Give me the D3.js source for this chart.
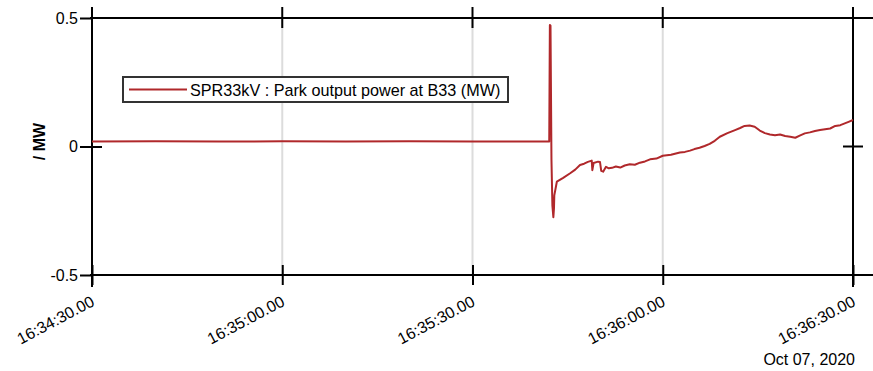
<!DOCTYPE html>
<html lang="en">
<head>
<meta charset="UTF-8">
<title>SPR33kV park output power</title>
<script src="https://cdnjs.cloudflare.com/ajax/libs/d3/7.8.5/d3.min.js"></script>
<style>
  body { margin: 0; background: #fff; }
  text { font-family: "Liberation Sans", Arial, sans-serif; }
</style>
</head>
<body>
<script>
// seconds after 16:34:30.00 on Oct 07, 2020
const seconds = [0, 10, 20, 30, 40, 50, 60, 70, 72.1, 72.2, 72.3, 72.45, 72.6, 72.75, 72.85, 72.9,
  73.3, 74.3, 75.4, 76.2, 76.95, 77.6, 78.2, 78.8, 78.9, 79.1, 79.8, 80.1, 80.3, 80.6, 81.05,
  81.5, 82.0, 82.6, 83.3, 84.0, 84.8, 85.6, 86.4, 87.2, 88.0, 89.0, 90.0, 91.3, 92.7, 93.5, 94.3,
  95.0, 95.8, 96.6, 97.4, 98.2, 99.0, 100.2, 101.4, 102.2, 102.9, 103.7, 104.5, 105.3, 106.1,
  106.9, 107.7, 108.5, 109.3, 110.1, 110.9, 111.6, 112.4, 113.2, 114.0, 114.8, 115.6, 116.4,
  117.2, 118.0, 118.7, 119.4, 120];
const power = [0.019, 0.020, 0.019, 0.020, 0.019, 0.020, 0.019, 0.019, 0.019, 0.473, 0.47, -0.05, -0.23, -0.275, -0.24, -0.19,
  -0.137, -0.122, -0.104, -0.09, -0.072, -0.067, -0.06, -0.055, -0.092, -0.064, -0.059, -0.06, -0.095, -0.098, -0.079,
  -0.085, -0.083, -0.078, -0.082, -0.074, -0.069, -0.071, -0.063, -0.058, -0.05, -0.047, -0.036, -0.032, -0.023, -0.021, -0.016,
  -0.010, -0.005, 0.002, 0.010, 0.022, 0.038, 0.052, 0.064, 0.072, 0.080, 0.082, 0.077, 0.062, 0.052,
  0.047, 0.044, 0.047, 0.041, 0.038, 0.034, 0.042, 0.051, 0.055, 0.060, 0.064, 0.067, 0.070,
  0.080, 0.083, 0.090, 0.097, 0.103];
const xTickSeconds = [0, 30, 60, 90, 120];
const xTickLabels = ["16:34:30.00", "16:35:00.00", "16:35:30.00", "16:36:00.00", "16:36:30.00"];
const yTicks = [-0.5, 0, 0.5];
const seriesName = "SPR33kV : Park output power at B33 (MW)";
const dateLabel = "Oct 07, 2020";

const start = new Date(2020, 9, 7, 16, 34, 30);
const data = seconds.map((s, i) => ({ t: new Date(start.getTime() + s * 1000), v: power[i] }));
const xTicks = xTickSeconds.map(s => new Date(start.getTime() + s * 1000));

const width = 873, height = 371;
const m = { left: 92, right: 853, top: 18, bottom: 275 };
const red = "#b0282b";

const svg = d3.select("body").append("svg")
  .attr("width", width)
  .attr("height", height);

const x = d3.scaleTime()
  .domain([start, xTicks[xTicks.length - 1]])
  .range([m.left, m.right]);
const y = d3.scaleLinear()
  .domain([-0.5, 0.5])
  .range([m.bottom, m.top]);

// grid lines
svg.append("g").selectAll("line")
  .data(xTicks.slice(1, -1))
  .enter().append("line")
  .attr("x1", d => x(d)).attr("x2", d => x(d))
  .attr("y1", m.top).attr("y2", m.bottom)
  .attr("stroke", "#dcdcdc")
  .attr("stroke-width", 2);

// frame lines
const frame = svg.append("g").attr("stroke", "#000").attr("stroke-width", 2);
frame.append("line").attr("x1", m.left - 2).attr("x2", width).attr("y1", m.top).attr("y2", m.top);
frame.append("line").attr("x1", m.left - 2).attr("x2", width).attr("y1", m.bottom).attr("y2", m.bottom);
frame.append("line").attr("x1", m.left).attr("x2", m.left).attr("y1", 7).attr("y2", 287);
frame.append("line").attr("x1", m.right).attr("x2", m.right).attr("y1", 7).attr("y2", 287);

// bottom axis: ticks cross the line, labels rotated
const xAxis = svg.append("g")
  .attr("transform", `translate(0,${m.bottom})`)
  .call(d3.axisBottom(x).tickValues(xTicks).tickSize(10).tickSizeOuter(0).tickFormat((d, i) => xTickLabels[i]));
xAxis.select(".domain").remove();
xAxis.selectAll(".tick line").attr("y1", -10).attr("stroke-width", 2);
xAxis.selectAll(".tick text")
  .attr("font-size", 16)
  .attr("fill", "#000")
  .attr("text-anchor", "end")
  .attr("dy", 0)
  .attr("y", 0)
  .attr("transform", "translate(3,30) rotate(-28)");

// top ticks
svg.append("g").selectAll("line")
  .data(xTicks.slice(1, -1))
  .enter().append("line")
  .attr("x1", d => x(d)).attr("x2", d => x(d))
  .attr("y1", m.top - 11).attr("y2", m.top + 10)
  .attr("stroke", "#000").attr("stroke-width", 2);

// left axis
const yAxis = svg.append("g")
  .attr("transform", `translate(${m.left},0)`)
  .call(d3.axisLeft(y).tickValues(yTicks).tickSize(12).tickFormat(d => String(d)));
yAxis.select(".domain").remove();
yAxis.selectAll(".tick line").attr("stroke-width", 2).attr("x2", d => d === 0 ? 10 : 0).attr("x1", -12);
yAxis.selectAll(".tick text").attr("font-size", 16).attr("fill", "#000").attr("x", -14);

// right tick at zero
svg.append("line")
  .attr("x1", m.right - 10).attr("x2", m.right + 10)
  .attr("y1", y(0)).attr("y2", y(0))
  .attr("stroke", "#000").attr("stroke-width", 2);

// series
const line = d3.line().x(d => x(d.t)).y(d => y(d.v));
svg.append("path")
  .datum(data)
  .attr("d", line)
  .attr("fill", "none")
  .attr("stroke", red)
  .attr("stroke-width", 2)
  .attr("stroke-linejoin", "round");

// legend
const lg = svg.append("g");
lg.append("rect")
  .attr("x", 123).attr("y", 77).attr("width", 385).attr("height", 25)
  .attr("fill", "#fff").attr("stroke", "#333").attr("stroke-width", 2);
lg.append("line")
  .attr("x1", 129).attr("x2", 187).attr("y1", 89.5).attr("y2", 89.5)
  .attr("stroke", red).attr("stroke-width", 2);
lg.append("text")
  .attr("x", 190).attr("y", 95.5)
  .attr("font-size", 16.2)
  .text(seriesName);

// y label
svg.append("text")
  .attr("transform", `translate(45,${y(0) - 5}) rotate(-90)`)
  .attr("text-anchor", "middle")
  .attr("font-size", 16)
  .attr("font-weight", "bold")
  .text("/ MW");

// date label
svg.append("text")
  .attr("x", 855).attr("y", 365)
  .attr("text-anchor", "end")
  .attr("font-size", 16)
  .text(dateLabel);
</script>
</body>
</html>
